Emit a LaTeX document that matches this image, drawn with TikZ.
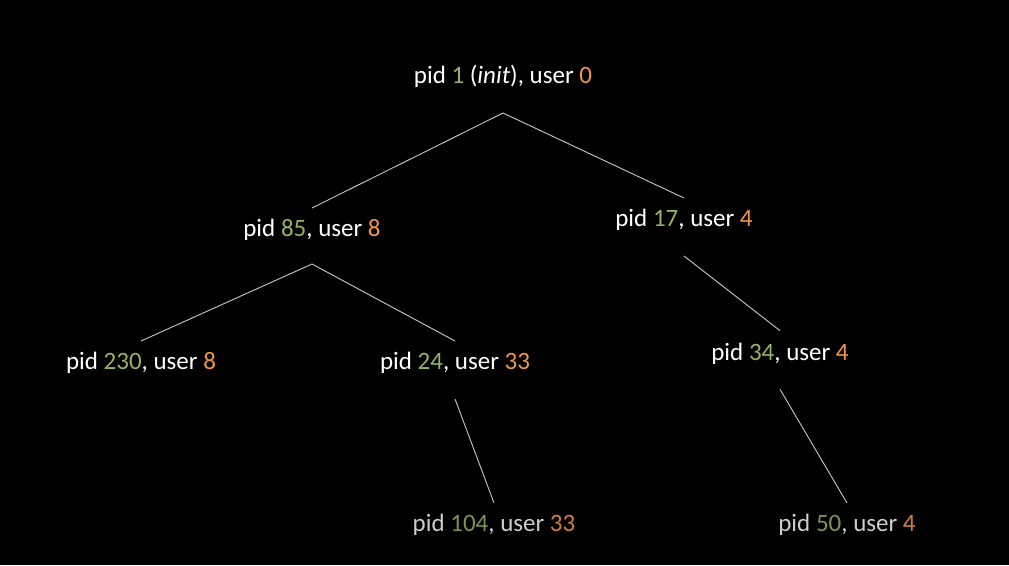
\documentclass[tikz,border=0pt]{standalone}
\usepackage{fontspec}
\setmainfont{Carlito}
\definecolor{tgreen}{RGB}{146,180,100}
\definecolor{torange}{RGB}{240,150,70}
\definecolor{bwhite}{RGB}{205,205,205}
\definecolor{bgreen}{RGB}{120,150,80}
\definecolor{borange}{RGB}{205,128,60}
\definecolor{edgegray}{RGB}{195,195,195}
\begin{document}
\begin{tikzpicture}[x=0.75pt,y=-0.75pt,
  lbl/.style={anchor=base,inner sep=0pt,text=white,font=\fontsize{18.75pt}{22pt}\selectfont},
  dimlbl/.style={lbl,text=bwhite},
  edge/.style={draw=edgegray,line width=0.7pt}]
\fill[black] (0,0) rectangle (1009,565);
\useasboundingbox (0,0) rectangle (1009,565);
\newcommand{\G}[1]{\textcolor{tgreen}{#1}}
\newcommand{\Or}[1]{\textcolor{torange}{#1}}
\newcommand{\BG}[1]{\textcolor{bgreen}{#1}}
\newcommand{\BO}[1]{\textcolor{borange}{#1}}
\node[lbl] (r) at (503,83) {pid \G{1} (\textit{init}), user \Or{0}};
\node[lbl] (n85) at (312,236) {pid \G{85}, user \Or{8}};
\node[lbl] (n17) at (684,226) {pid \G{17}, user \Or{4}};
\node[lbl] (n230) at (141,369) {pid \G{230}, user \Or{8}};
\node[lbl] (n24) at (455,369) {pid \G{24}, user \Or{33}};
\node[lbl] (n34) at (780,360) {pid \G{34}, user \Or{4}};
\node[dimlbl] (n104) at (494,531) {pid \BG{104}, user \BO{33}};
\node[dimlbl] (n50) at (847,531) {pid \BG{50}, user \BO{4}};
\draw[edge] ([yshift=-22.5pt]r.base) -- ([yshift=21pt]n85.base);
\draw[edge] ([yshift=-22.5pt]r.base) -- ([yshift=21pt]n17.base);
\draw[edge] ([yshift=-21pt]n85.base) -- ([yshift=21pt]n230.base);
\draw[edge] ([yshift=-21pt]n85.base) -- ([yshift=21pt]n24.base);
\draw[edge] ([yshift=-22.5pt]n17.base) -- ([yshift=22pt]n34.base);
\draw[edge] ([yshift=-22.5pt]n24.base) -- ([yshift=21pt]n104.base);
\draw[edge] ([yshift=-22pt]n34.base) -- ([yshift=21pt]n50.base);
\end{tikzpicture}
\end{document}
